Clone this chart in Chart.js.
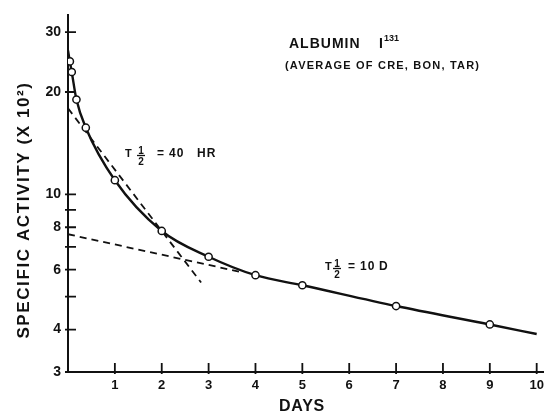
<!DOCTYPE html>
<html><head><meta charset="utf-8">
<script src="https://cdn.jsdelivr.net/npm/chart.js@4/dist/chart.umd.min.js"></script>
<style>html,body{margin:0;padding:0;background:#fff}</style>
</head><body>
<canvas id="c" width="550" height="413"></canvas>
<script>
// Observed points (days, specific activity x 10^2)
const days = [0.04, 0.08, 0.18, 0.38, 1, 2, 3, 4, 5, 7, 9];
const activity = [24.6, 22.9, 19.0, 15.7, 11.0, 7.8, 6.55, 5.78, 5.4, 4.69, 4.14];
// Fitted smooth curve (drawn through the points, with its start and end)
const curveDays = [0, 0.04, 0.08, 0.18, 0.38, 1, 2, 3, 4, 5, 7, 9, 10];
const curveVals = [26.5, 24.6, 22.9, 19.0, 15.7, 11.0, 7.8, 6.55, 5.78, 5.4, 4.69, 4.14, 3.88];
// Fast component, T1/2 = 40 HR
const fastDays = [0, 2.84];
const fastVals = [17.9, 5.5];
// Slow component, T1/2 = 10 D
const slowDays = [0, 3.75];
const slowVals = [7.63, 5.88];
// Ticks
const xTicks = [1, 2, 3, 4, 5, 6, 7, 8, 9, 10];
const yTicks = [3, 4, 5, 6, 7, 8, 9, 10, 20, 30];
const yLabeled = [3, 4, 6, 8, 10, 20, 30];

const FONT = "'Liberation Sans', Arial, sans-serif";
const pts = (xs, ys) => xs.map((x, i) => ({x: x, y: ys[i]}));

const decor = {
  id: 'decor',
  afterDraw(chart) {
    const {ctx, chartArea: a, scales: {x, y}} = chart;
    ctx.save();
    ctx.strokeStyle = '#111';
    ctx.lineWidth = 1.8;
    ctx.beginPath();
    yTicks.forEach(v => { const py = y.getPixelForValue(v); ctx.moveTo(a.left - 3, py); ctx.lineTo(a.left + 8, py); });
    xTicks.forEach(v => { const px = x.getPixelForValue(v); ctx.moveTo(px, a.bottom + 2); ctx.lineTo(px, a.bottom - 9); });
    ctx.stroke();

    ctx.fillStyle = '#111';
    ctx.textBaseline = 'alphabetic';
    // axis titles
    ctx.save();
    ctx.translate(29, 210);
    ctx.rotate(-Math.PI / 2);
    ctx.textAlign = 'center';
    ctx.font = 'bold 17px ' + FONT;
    ctx.letterSpacing = '1.6px';
    ctx.fillText('SPECIFIC ACTIVITY (X 10²)', 0, 0);
    ctx.restore();
    ctx.textAlign = 'center';
    ctx.font = 'bold 16px ' + FONT;
    ctx.letterSpacing = '0.8px';
    ctx.fillText('DAYS', 302, 411);

    // title
    ctx.textAlign = 'left';
    ctx.font = 'bold 14px ' + FONT;
    ctx.letterSpacing = '1px';
    ctx.fillText('ALBUMIN', 289, 48);
    ctx.fillText('I', 379, 48);
    ctx.letterSpacing = '0px';
    ctx.font = 'bold 9px ' + FONT;
    ctx.fillText('131', 384, 41);
    ctx.font = 'bold 11px ' + FONT;
    ctx.letterSpacing = '1.2px';
    ctx.fillText('(AVERAGE OF CRE, BON, TAR)', 285, 69);
    ctx.letterSpacing = '0px';

    // half-life labels
    function half(xT, yB, fxOff, parts) {
      ctx.textAlign = 'left';
      ctx.font = 'bold 11px ' + FONT;
      ctx.fillText('T', xT, yB);
      const fx = xT + fxOff;
      ctx.textAlign = 'center';
      ctx.font = 'bold 10px ' + FONT;
      ctx.fillText('1', fx, yB - 3);
      ctx.fillText('2', fx, yB + 8);
      ctx.lineWidth = 1.3;
      ctx.beginPath(); ctx.moveTo(fx - 4, yB - 1.5); ctx.lineTo(fx + 4, yB - 1.5); ctx.stroke();
      ctx.textAlign = 'left';
      ctx.font = 'bold 12px ' + FONT;
      ctx.letterSpacing = '1px';
      parts.forEach(p => ctx.fillText(p[0], p[1], yB));
      ctx.letterSpacing = '0px';
    }
    half(125, 157, 16, [['=', 157], ['40', 169], ['HR', 197]]);
    half(325, 270, 12, [['=', 348], ['10', 360], ['D', 379]]);
    ctx.restore();
  }
};

new Chart(document.getElementById('c'), {
  type: 'scatter',
  data: {
    datasets: [
      { data: pts(curveDays, curveVals), showLine: true, borderColor: '#111', borderWidth: 2.4,
        pointRadius: 0, cubicInterpolationMode: 'monotone', order: 2 },
      { data: pts(fastDays, fastVals), showLine: true, borderColor: '#111', borderWidth: 1.8,
        borderDash: [7, 5], pointRadius: 0, order: 3 },
      { data: pts(slowDays, slowVals), showLine: true, borderColor: '#111', borderWidth: 1.8,
        borderDash: [7, 5], pointRadius: 0, order: 3 },
      { data: pts(days, activity), showLine: false, pointRadius: 3.6, pointBorderWidth: 1.5,
        pointBackgroundColor: '#fff', pointBorderColor: '#111', order: 1 }
    ]
  },
  options: {
    responsive: false,
    animation: false,
    devicePixelRatio: 1,
    layout: { padding: { top: 12, right: 0, left: 0, bottom: 0 } },
    plugins: { legend: { display: false }, tooltip: { enabled: false } },
    scales: {
      x: {
        type: 'linear', min: 0, max: 10.15, bounds: 'data',
        afterBuildTicks: s => { s.ticks = xTicks.map(v => ({value: v})); },
        afterFit: s => { s.height = 41; },
        grid: { display: false, drawTicks: false },
        border: { display: true, color: '#111', width: 2 },
        ticks: { color: '#111', padding: 6, maxRotation: 0, autoSkip: false,
                 font: { family: FONT, size: 13, weight: 'bold' }, callback: v => String(v) }
      },
      y: {
        type: 'logarithmic', min: 3, max: 33.6, bounds: 'data',
        afterBuildTicks: s => { s.ticks = yTicks.map(v => ({value: v})); },
        afterFit: s => { s.width = 68; },
        grid: { display: false, drawTicks: false },
        border: { display: true, color: '#111', width: 2 },
        ticks: { color: '#111', padding: 7, autoSkip: false,
                 font: { family: FONT, size: 14, weight: 'bold' },
                 callback: v => yLabeled.includes(v) ? String(v) : '' }
      }
    }
  },
  plugins: [decor]
});
</script>
</body></html>
